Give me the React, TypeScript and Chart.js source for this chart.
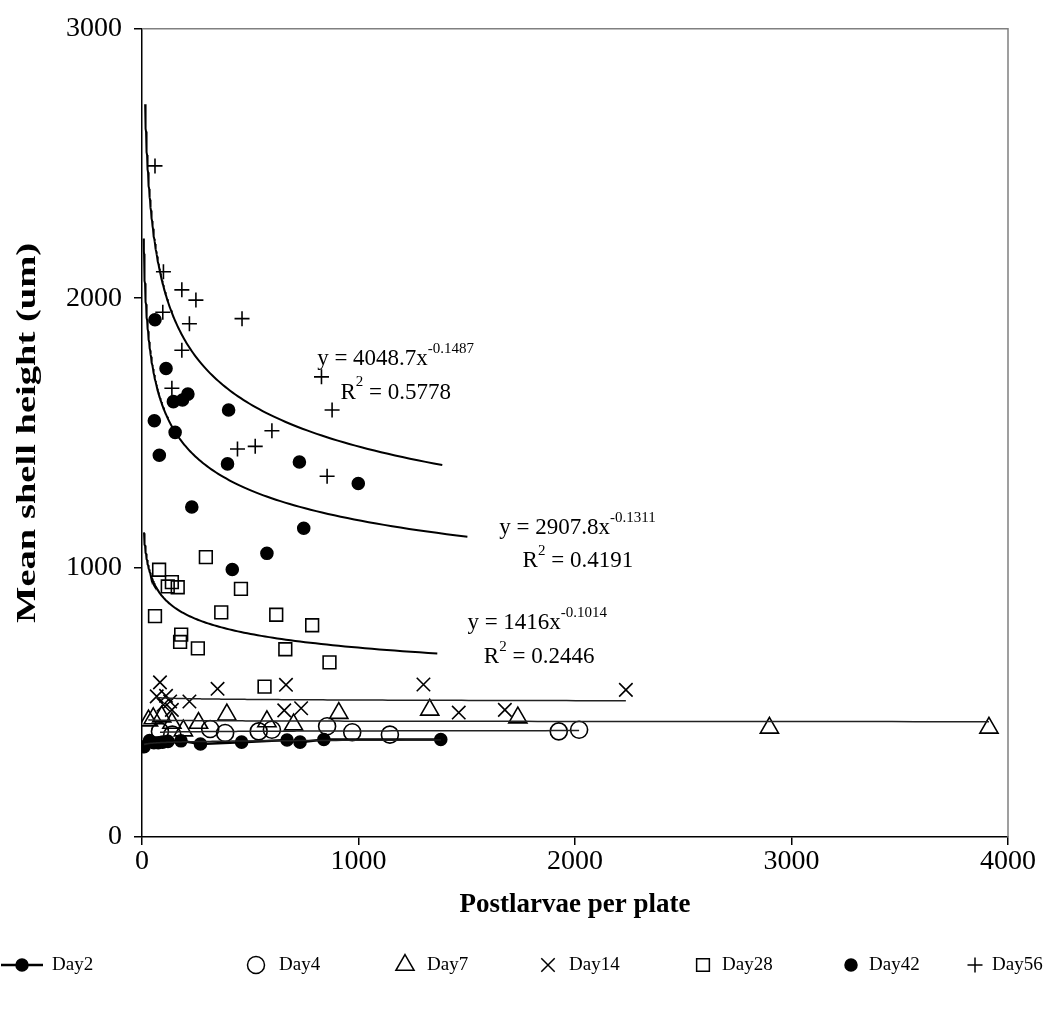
import React, { useEffect, useRef } from 'react';
import { Chart, registerables } from 'chart.js';

Chart.register(...registerables);

const FONT = "'Liberation Serif', 'Times New Roman', Times, serif";

// ---- data ----
const day2X = [10, 35, 55, 75, 95, 120, 180, 270, 460, 670, 730, 840, 1380];
const day2Y = [335, 358, 350, 350, 352, 355, 357, 345, 352, 360, 352, 362, 362];

const day4X = [83, 140, 315, 384, 539, 600, 855, 971, 1145, 1925, 2019];
const day4Y = [392, 380, 401, 386, 392, 398, 411, 389, 380, 392, 398];

const day7X = [30, 52, 91, 138, 191, 261, 392, 577, 700, 909, 1329, 1736, 2898, 3912];
const day7Y = [432, 440, 447, 423, 395, 423, 454, 429, 417, 460, 472, 443, 405, 405];

const day14X = [68, 83, 99, 111, 130, 138, 219, 349, 657, 665, 735, 1300, 1463, 1676, 2235];
const day14Y = [522, 574, 491, 524, 503, 472, 503, 550, 470, 565, 478, 566, 462, 472, 546];

const day28X = [60, 79, 119, 138, 165, 176, 181, 258, 295, 366, 457, 566, 620, 662, 786, 866];
const day28Y = [820, 992, 930, 946, 927, 724, 751, 700, 1039, 834, 921, 558, 825, 697, 786, 648];

const day42X = [57, 60, 80, 111, 145, 153, 187, 212, 230, 395, 400, 417, 577, 727, 747, 999];
const day42Y = [1545, 1920, 1417, 1739, 1616, 1502, 1622, 1644, 1225, 1385, 1585, 993, 1053, 1392, 1146, 1312];

const day56X = [60, 96, 99, 138, 184, 184, 219, 249, 441, 462, 523, 600, 829, 855, 878];
const day56Y = [2491, 1948, 2098, 1666, 2031, 1807, 1905, 1993, 1440, 1924, 1450, 1508, 1708, 1339, 1585];

// power trendlines shown on the chart (y = a x^b) with their drawn x range
const trend56 = { a: 4048.7, b: -0.1487, from: 14.5, to: 1387 };
const trend42 = { a: 2907.8, b: -0.1311, from: 7.8, to: 1503 };
const trend28 = { a: 1416, b: -0.1014, from: 9.2, to: 1364 };

const xTicks = [0, 1000, 2000, 3000, 4000];
const yTicks = [0, 1000, 2000, 3000];

const eqTexts = [
  { base: 'y = 4048.7x', exp: '-0.1487', r2: '0.5778', eqAt: [809, 1775], r2At: [917, 1650] },
  { base: 'y = 2907.8x', exp: '-0.1311', r2: '0.4191', eqAt: [1650, 1148], r2At: [1758, 1026] },
  { base: 'y = 1416x', exp: '-0.1014', r2: '0.2446', eqAt: [1503, 793], r2At: [1579, 668] },
];

const legendItems = [
  { label: 'Day2', shape: 'circle', filled: true, line: true, r: 6, mx: 22, tx: 52 },
  { label: 'Day4', shape: 'circle', filled: false, line: false, r: 8.5, mx: 256, tx: 279 },
  { label: 'Day7', shape: 'triangle', filled: false, line: false, r: 10.5, mx: 405, tx: 427 },
  { label: 'Day14', shape: 'crossRot', filled: false, line: false, r: 9.5, mx: 548, tx: 569 },
  { label: 'Day28', shape: 'rect', filled: false, line: false, r: 9, mx: 703, tx: 722 },
  { label: 'Day42', shape: 'circle', filled: true, line: false, r: 6, mx: 851, tx: 869 },
  { label: 'Day56', shape: 'cross', filled: false, line: false, r: 7.5, mx: 975, tx: 992 },
];

// ---- helpers ----
const pts = (xs: number[], ys: number[]) => xs.map((x, i) => ({ x, y: ys[i] }));

function powerFit(xs: number[], ys: number[]) {
  const n = xs.length;
  let sx = 0, sy = 0, sxx = 0, sxy = 0;
  for (let i = 0; i < n; i++) {
    const lx = Math.log(xs[i]);
    const ly = Math.log(ys[i]);
    sx += lx; sy += ly; sxx += lx * lx; sxy += lx * ly;
  }
  const b = (n * sxy - sx * sy) / (n * sxx - sx * sx);
  const a = Math.exp((sy - b * sx) / n);
  return { a, b, from: Math.min(...xs), to: Math.max(...xs) };
}

function powerCurve(t: { a: number; b: number; from: number; to: number }, n = 160) {
  const out: { x: number; y: number }[] = [];
  const l0 = Math.log(t.from), l1 = Math.log(t.to);
  for (let i = 0; i <= n; i++) {
    const x = Math.exp(l0 + ((l1 - l0) * i) / n);
    out.push({ x, y: t.a * Math.pow(x, t.b) });
  }
  return out;
}

function drawMarker(ctx: CanvasRenderingContext2D, shape: string, x: number, y: number, r: number, filled: boolean) {
  ctx.beginPath();
  if (shape === 'circle') {
    ctx.arc(x, y, r, 0, Math.PI * 2);
  } else if (shape === 'triangle') {
    const s = Math.sin(Math.PI / 3) * r;
    ctx.moveTo(x, y - r);
    ctx.lineTo(x + s, y + r / 2);
    ctx.lineTo(x - s, y + r / 2);
    ctx.closePath();
  } else if (shape === 'rect') {
    const s = Math.SQRT1_2 * r;
    ctx.rect(x - s, y - s, 2 * s, 2 * s);
  } else if (shape === 'crossRot') {
    const s = Math.SQRT1_2 * r;
    ctx.moveTo(x - s, y - s); ctx.lineTo(x + s, y + s);
    ctx.moveTo(x - s, y + s); ctx.lineTo(x + s, y - s);
  } else if (shape === 'cross') {
    ctx.moveTo(x - r, y); ctx.lineTo(x + r, y);
    ctx.moveTo(x, y - r); ctx.lineTo(x, y + r);
  }
  if (filled) ctx.fill();
  ctx.stroke();
}

const decorPlugin = {
  id: 'decor',
  beforeDatasetsDraw(chart: any) {
    const { ctx, chartArea } = chart;
    const { left, right, top, bottom } = chartArea;
    ctx.save();
    ctx.strokeStyle = '#808080';
    ctx.lineWidth = 1.5;
    ctx.beginPath();
    ctx.moveTo(left, top);
    ctx.lineTo(right, top);
    ctx.lineTo(right, bottom);
    ctx.stroke();
    ctx.restore();
  },
  afterDraw(chart: any) {
    const { ctx, chartArea, scales } = chart;
    const xs = scales.x, ys = scales.y;
    ctx.save();
    ctx.fillStyle = '#000';
    ctx.strokeStyle = '#000';

    // y axis title (stretched along its length like the original)
    ctx.save();
    ctx.translate(28, (chartArea.top + chartArea.bottom) / 2);
    ctx.rotate(-Math.PI / 2);
    ctx.font = `bold 27px ${FONT}`;
    const title = 'Mean shell height (um)';
    const w = ctx.measureText(title).width;
    ctx.scale(380 / w, 1);
    ctx.textAlign = 'center';
    ctx.textBaseline = 'middle';
    ctx.fillText(title, 0, 0);
    ctx.restore();

    // trendline equations
    ctx.textAlign = 'left';
    ctx.textBaseline = 'middle';
    for (const e of eqTexts) {
      const ex = xs.getPixelForValue(e.eqAt[0]);
      const ey = ys.getPixelForValue(e.eqAt[1]);
      ctx.font = `23px ${FONT}`;
      ctx.fillText(e.base, ex, ey);
      const bw = ctx.measureText(e.base).width;
      ctx.font = `15px ${FONT}`;
      ctx.fillText(e.exp, ex + bw, ey - 10);

      const rx = xs.getPixelForValue(e.r2At[0]);
      const ry = ys.getPixelForValue(e.r2At[1]);
      ctx.font = `23px ${FONT}`;
      ctx.fillText('R', rx, ry);
      const rw = ctx.measureText('R').width;
      ctx.font = `15px ${FONT}`;
      ctx.fillText('2', rx + rw, ry - 10);
      const tw = ctx.measureText('2').width;
      ctx.font = `23px ${FONT}`;
      ctx.fillText(' = ' + e.r2, rx + rw + tw, ry);
    }

    // legend
    const ly = 965;
    ctx.lineWidth = 1.5;
    for (const it of legendItems) {
      if (it.line) {
        ctx.save();
        ctx.lineWidth = 2.5;
        ctx.beginPath();
        ctx.moveTo(it.mx - 21, ly);
        ctx.lineTo(it.mx + 21, ly);
        ctx.stroke();
        ctx.restore();
      }
      drawMarker(ctx, it.shape, it.mx, ly, it.r, it.filled);
      ctx.font = `19px ${FONT}`;
      ctx.textAlign = 'left';
      ctx.textBaseline = 'middle';
      ctx.fillText(it.label, it.tx, ly);
    }
    ctx.restore();
  },
};

export default function App() {
  const ref = useRef<HTMLCanvasElement | null>(null);

  useEffect(() => {
    document.body.style.margin = '0';
    const canvas = ref.current;
    if (!canvas) return;

    const sortIdx = day2X.map((_, i) => i).sort((a, b) => day2X[a] - day2X[b]);
    const day2Pts = sortIdx.map((i) => ({ x: day2X[i], y: day2Y[i] }));

    const fit14 = powerFit(day14X, day14Y);
    const fit7 = powerFit(day7X, day7Y);
    const fit4 = powerFit(day4X, day4Y);
    const fit2 = powerFit(day2X, day2Y);

    const markerBase = {
      showLine: false,
      borderColor: '#000',
      pointBorderColor: '#000',
      pointBorderWidth: 1.6,
      pointBackgroundColor: 'rgba(0,0,0,0)',
      pointHoverRadius: 0,
    };

    const trendBase = {
      showLine: true,
      pointRadius: 0,
      borderColor: '#000',
      borderWidth: 2,
      fill: false,
      tension: 0,
    };

    const chart = new Chart(canvas, {
      type: 'scatter',
      data: {
        datasets: [
          { ...trendBase, label: 't56', data: powerCurve(trend56) },
          { ...trendBase, label: 't42', data: powerCurve(trend42) },
          { ...trendBase, label: 't28', data: powerCurve(trend28) },
          { ...trendBase, label: 't14', data: powerCurve(fit14), borderWidth: 1.5, borderColor: '#222' },
          { ...trendBase, label: 't7', data: powerCurve(fit7), borderWidth: 1.5, borderColor: '#222' },
          { ...trendBase, label: 't4', data: powerCurve(fit4), borderWidth: 1.5, borderColor: '#222' },
          { ...trendBase, label: 't2', data: powerCurve(fit2), borderWidth: 1.5, borderColor: '#222' },
          {
            ...markerBase, label: 'Day2', data: day2Pts, showLine: true, borderWidth: 2.5,
            pointStyle: 'circle', pointRadius: 6, pointBackgroundColor: '#000',
          },
          { ...markerBase, label: 'Day4', data: pts(day4X, day4Y), pointStyle: 'circle', pointRadius: 8.5 },
          { ...markerBase, label: 'Day7', data: pts(day7X, day7Y), pointStyle: 'triangle', pointRadius: 10.5 },
          { ...markerBase, label: 'Day14', data: pts(day14X, day14Y), pointStyle: 'crossRot', pointRadius: 9.5 },
          { ...markerBase, label: 'Day28', data: pts(day28X, day28Y), pointStyle: 'rect', pointRadius: 9 },
          {
            ...markerBase, label: 'Day42', data: pts(day42X, day42Y), pointStyle: 'circle',
            pointRadius: 6, pointBackgroundColor: '#000',
          },
          { ...markerBase, label: 'Day56', data: pts(day56X, day56Y), pointStyle: 'cross', pointRadius: 7.5 },
        ] as any,
      },
      options: {
        animation: false,
        responsive: false,
        devicePixelRatio: 1,
        events: [],
        layout: { padding: { left: 0, top: 24, right: 35, bottom: 95 } },
        plugins: { legend: { display: false }, tooltip: { enabled: false } },
        scales: {
          x: {
            type: 'linear',
            min: 0,
            max: 4000,
            afterBuildTicks: (s: any) => { s.ticks = xTicks.map((v) => ({ value: v })); },
            ticks: {
              font: { family: FONT, size: 28 }, color: '#000', padding: 0, maxRotation: 0,
              callback: (v: any) => String(v),
            },
            grid: { drawOnChartArea: false, drawTicks: true, tickLength: 8, color: '#000', lineWidth: 1.5 },
            border: { color: '#000', width: 1.5 },
            title: {
              display: true,
              text: 'Postlarvae per plate',
              font: { family: FONT, size: 27, weight: 'bold' },
              color: '#000',
              padding: { top: 0, bottom: 16 },
            },
            afterFit: (s: any) => { s.height = 100; },
          },
          y: {
            type: 'linear',
            min: 0,
            max: 3000,
            afterBuildTicks: (s: any) => { s.ticks = yTicks.map((v) => ({ value: v })); },
            ticks: {
              font: { family: FONT, size: 28 }, color: '#000', padding: 12,
              callback: (v: any) => String(v),
            },
            grid: { drawOnChartArea: false, drawTicks: true, tickLength: 8, color: '#000', lineWidth: 1.5 },
            border: { color: '#000', width: 1.5 },
            afterFit: (s: any) => { s.width = 142; },
          },
        },
      } as any,
      plugins: [decorPlugin],
    });

    return () => chart.destroy();
  }, []);

  return (
    <div style={{ width: 1043, height: 1032 }}>
      <canvas ref={ref} width={1043} height={1032} style={{ display: 'block' }} />
    </div>
  );
}
